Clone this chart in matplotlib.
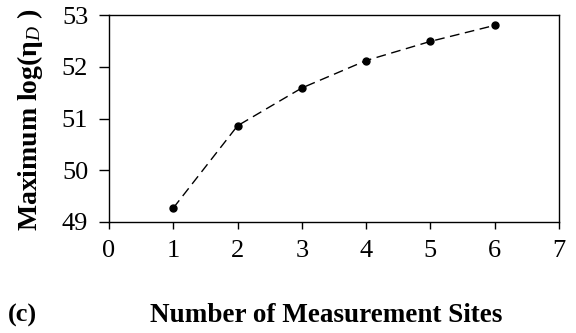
import matplotlib
matplotlib.use("Agg")
import matplotlib.pyplot as plt

sites = [1, 2, 3, 4, 5, 6]
max_log_eta = [49.27, 50.86, 51.59, 52.12, 52.49, 52.80]
xticks = [0, 1, 2, 3, 4, 5, 6, 7]
yticks = [49, 50, 51, 52, 53]

plt.rcParams['font.family'] = ['Liberation Serif', 'DejaVu Serif']
plt.rcParams['mathtext.fontset'] = 'custom'
plt.rcParams['mathtext.rm'] = 'Liberation Serif'
plt.rcParams['mathtext.it'] = 'Liberation Serif:italic'
plt.rcParams['mathtext.bf'] = 'Liberation Serif:bold'

W, H = 576, 333
fig = plt.figure(figsize=(W / 100, H / 100), dpi=100)
ax = fig.add_axes([109 / W, 1 - 222 / H, 450 / W, 207 / H])

ax.plot(sites, max_log_eta, linestyle=(0, (7, 4)), color='black', linewidth=1,
        marker='o', markersize=5, markerfacecolor='black', markeredgecolor='black')

ax.set_xlim(0, 7)
ax.set_ylim(49, 53)
ax.set_xticks(xticks)
ax.set_yticks(yticks)
ax.tick_params(direction='out', width=1, labelsize=19)
ax.tick_params(axis='y', length=7, pad=8)
ax.tick_params(axis='x', length=5, pad=8)
for s in ax.spines.values():
    s.set_linewidth(1)

fig.text(30 / W, 1 - 120 / H, r"Maximum log(η$_{\mathit{D}}$ )", rotation=90,
         ha='center', va='center', fontsize=20, fontweight='bold')
fig.text(326 / W, 1 - 315 / H, "Number of Measurement Sites",
         ha='center', va='center', fontsize=19.5, fontweight='bold')
fig.text(8 / W, 1 - 315 / H, "(c)", ha='left', va='center', fontsize=19,
         fontweight='bold')

fig.savefig("out.png", dpi=100)
